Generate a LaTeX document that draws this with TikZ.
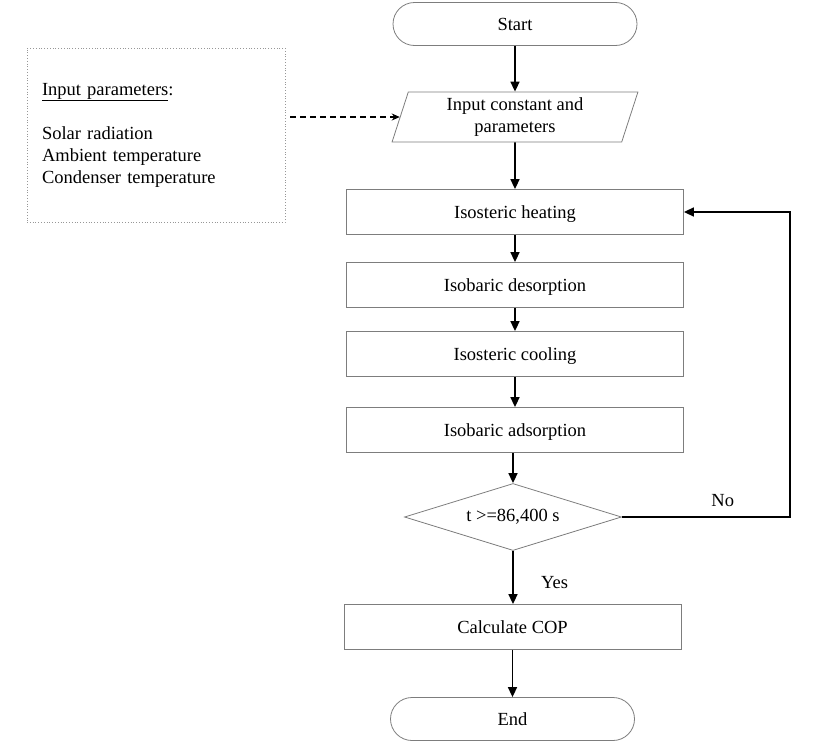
\documentclass[tikz,border=0pt]{standalone}
\usepackage{fontspec}
\setmainfont{Liberation Serif}
\usetikzlibrary{arrows.meta,shapes.geometric}
\definecolor{boxline}{RGB}{125,125,125}

\begin{document}
\begin{tikzpicture}[x=1pt,y=-1pt,
  font=\fontsize{18.5}{22}\selectfont,
  terminal/.style={draw=boxline,line width=0.8pt,rounded corners=21.5pt,minimum width=244,minimum height=43,inner sep=0pt,text depth=0pt},
  process/.style={draw=boxline,line width=0.8pt,minimum width=337,minimum height=45,inner sep=0pt,text depth=0pt},
  io/.style={draw=boxline,line width=0.8pt,trapezium,trapezium left angle=75,trapezium right angle=105,trapezium stretches=true,minimum width=246,minimum height=50,inner sep=0pt,align=center},
  decision/.style={draw=boxline,line width=0.8pt,diamond,aspect=3.2,minimum width=217,minimum height=67,inner sep=0pt},
  flow/.style={line width=1.6pt,-{Triangle[length=10pt,width=9pt]}}]

\useasboundingbox (0,0) rectangle (820,747);

\node[terminal] (start) at (515,24) {Start};
\node[io] (input) at (515,117) {Input constant and\\parameters};
\node[draw=boxline!80,dotted,line width=0.8pt,minimum width=258,minimum height=174,text width=228,align=left,inner sep=0pt] (params) at (156,135)
  {\underline{Input parameters}:\\[22pt]Solar radiation\\Ambient temperature\\Condenser temperature};

\node[process] (heat) at (515,212) {Isosteric heating};
\node[process] (desorb) at (515,285) {Isobaric desorption};
\node[process] (cool) at (515,354) {Isosteric cooling};
\node[process] (adsorb) at (515,430) {Isobaric adsorption};
\node[decision] (check) at (513,517) {t >=86,400 s};
\node[process] (cop) at (512.5,627) {Calculate COP};
\node[terminal] (end) at (512.5,719) {End};
\coordinate (loop) at (790,517);

\draw[flow] (start) -- (input);
\draw[line width=1.4pt,dashed,dash pattern=on 6pt off 4pt,-{Stealth[length=8pt,width=7pt]}] ([xshift=5pt]params.east |- input.west) -- (input.west);
\draw[flow] (input) -- (heat);
\draw[flow] (heat) -- (desorb);
\draw[flow] (desorb) -- (cool);
\draw[flow] (cool) -- (adsorb);
\draw[flow] (adsorb.south -| check.north) -- (check.north);
\draw[flow] (check.east) -- node[pos=0.6,above=6pt] {No} (loop) |- (heat.east);
\draw[flow] (check.south) -- node[pos=0.6,right=24pt] {Yes} (check.south |- cop.north);
\draw[flow] (cop.south -| end.north) -- (end.north);
\end{tikzpicture}
\end{document}
